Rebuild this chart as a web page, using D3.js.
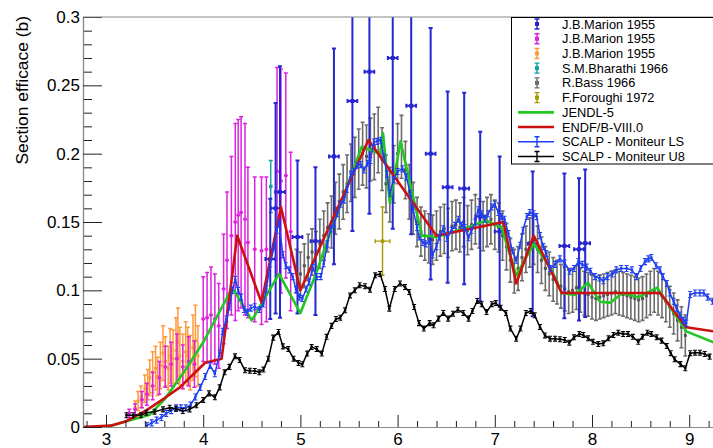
<!DOCTYPE html>
<html>
<head>
<meta charset="utf-8">
<script src="https://cdn.jsdelivr.net/npm/d3@7"></script>
<style>
  body { margin: 0; background: #fff; }
  svg { display: block; }
  text { font-family: "Liberation Sans", Arial, Helvetica, sans-serif; }
</style>
</head>
<body>
<svg id="chart" width="713" height="448"></svg>
<script>
// ---------- data (neutron energy in MeV, cross section in barn) ----------

// J.B.Marion 1955 (blue set)
const marionBlueE   = [4.69, 4.745, 4.79, 4.97, 5.155, 5.345, 5.535, 5.71, 5.95, 6.14, 6.34, 6.515, 6.685, 6.85, 7.05, 7.39, 7.716, 7.866, 7.93];
const marionBlueXS  = [0.123, 0.160, 0.172, 0.139, 0.136, 0.198, 0.2385, 0.260, 0.270, 0.235, 0.200, 0.1755, 0.1745, 0.154, 0.143, 0.134, 0.1325, 0.130, 0.1345];
const marionBlueErr = [0.044, 0.077, 0.092, 0.056, 0.054, 0.079, 0.095, 0.104, 0.125, 0.094, 0.092, 0.070, 0.070, 0.062, 0.055, 0.053, 0.053, 0.052, 0.054];
const marionBlueDE  = 0.05;

// J.B.Marion 1955 (magenta set)
const marionMagE   = [3.24, 3.30, 3.37, 3.42, 3.48, 3.55, 3.61, 3.67, 3.73, 3.79, 3.85, 3.91,
                      4.00, 4.04, 4.08, 4.12, 4.16, 4.21, 4.245, 4.29, 4.33, 4.36, 4.39, 4.43, 4.46, 4.53, 4.60, 4.65, 4.76, 4.80, 4.85, 4.90];
const marionMagXS  = [0.010, 0.013, 0.020, 0.024, 0.030, 0.036, 0.044, 0.046, 0.050, 0.044, 0.048, 0.046,
                      0.079, 0.080, 0.082, 0.079, 0.074, 0.101, 0.122, 0.140, 0.150, 0.155, 0.157, 0.152, 0.135, 0.130, 0.129, 0.130, 0.187, 0.180, 0.184, 0.143];
const marionMagErr = [0.003, 0.004, 0.006, 0.008, 0.010, 0.012, 0.015, 0.016, 0.018, 0.016, 0.018, 0.017,
                      0.031, 0.033, 0.035, 0.033, 0.031, 0.040, 0.050, 0.058, 0.072, 0.070, 0.070, 0.070, 0.055, 0.053, 0.054, 0.053, 0.076, 0.082, 0.075, 0.058];
const marionMagDE  = 0.02;

// J.B.Marion 1955 (orange set)
const marionOrE   = [3.30, 3.33, 3.36, 3.40, 3.43, 3.45, 3.48, 3.51, 3.53, 3.56, 3.586, 3.61, 3.64, 3.66, 3.69, 3.72, 3.74, 3.76, 3.79, 3.82, 3.84, 3.867, 3.895, 3.92, 3.946];
const marionOrXS  = [0.014, 0.019, 0.022, 0.028, 0.031, 0.036, 0.040, 0.043, 0.037, 0.045, 0.054, 0.048, 0.043, 0.052, 0.050, 0.056, 0.062, 0.052, 0.048, 0.055, 0.052, 0.047, 0.058, 0.063, 0.052];
const marionOrErr = [0.005, 0.007, 0.008, 0.010, 0.011, 0.013, 0.015, 0.016, 0.014, 0.017, 0.020, 0.018, 0.016, 0.020, 0.021, 0.024, 0.025, 0.021, 0.020, 0.022, 0.021, 0.020, 0.024, 0.026, 0.022];
const marionOrDE  = 0.01;

// S.M.Bharathi 1966
const bharathiE   = [4.695];
const bharathiXS  = [0.176];
const bharathiErr = [0.019];

// R.Bass 1966
const bassE = [4.96, 5.00, 5.04, 5.08, 5.12, 5.16, 5.20, 5.24, 5.28, 5.32,
               5.36, 5.40, 5.44, 5.48, 5.52, 5.56, 5.60, 5.64, 5.68, 5.72,
               5.76, 5.80, 5.84, 5.88, 5.92, 5.96, 6.00, 6.04, 6.08, 6.12,
               6.16, 6.20, 6.24, 6.28, 6.32, 6.36, 6.40, 6.44, 6.48, 6.52,
               6.56, 6.60, 6.64, 6.68, 6.72, 6.76, 6.80, 6.84, 6.88, 6.92,
               6.96, 7.00, 7.04, 7.08, 7.12, 7.16, 7.20, 7.24, 7.28, 7.32,
               7.36, 7.40, 7.44, 7.48, 7.52, 7.56, 7.60, 7.64, 7.68, 7.72,
               7.76, 7.80, 7.84, 7.88, 7.92, 7.96, 8.00, 8.04, 8.08, 8.12,
               8.16, 8.20, 8.24, 8.28, 8.32, 8.36, 8.40, 8.44, 8.48, 8.52,
               8.56, 8.60, 8.64, 8.68, 8.72, 8.76, 8.80, 8.84, 8.88, 8.92, 8.96];
const bassXS = [0.114, 0.112, 0.118, 0.124, 0.128, 0.126, 0.134, 0.140, 0.146, 0.150,
                0.160, 0.165, 0.172, 0.178, 0.186, 0.190, 0.196, 0.200, 0.198, 0.203,
                0.205, 0.210, 0.196, 0.178, 0.170, 0.185, 0.200, 0.205, 0.188, 0.172,
                0.160, 0.150, 0.143, 0.140, 0.138, 0.137, 0.140, 0.143, 0.145, 0.142,
                0.147, 0.148, 0.146, 0.150, 0.144, 0.148, 0.152, 0.149, 0.147, 0.150,
                0.152, 0.148, 0.146, 0.140, 0.132, 0.122, 0.114, 0.116, 0.124, 0.130,
                0.135, 0.137, 0.130, 0.122, 0.116, 0.112, 0.108, 0.106, 0.103, 0.101,
                0.099, 0.100, 0.102, 0.100, 0.098, 0.097, 0.095, 0.094, 0.095, 0.096,
                0.097, 0.098, 0.099, 0.098, 0.097, 0.096, 0.095, 0.094, 0.093, 0.094,
                0.096, 0.098, 0.100, 0.098, 0.096, 0.092, 0.088, 0.083, 0.078, 0.073, 0.067];
const bassErr = [0.016, 0.016, 0.016, 0.017, 0.017, 0.017, 0.018, 0.018, 0.018, 0.019,
                 0.019, 0.020, 0.020, 0.021, 0.021, 0.022, 0.022, 0.023, 0.023, 0.023,
                 0.024, 0.024, 0.023, 0.021, 0.020, 0.021, 0.022, 0.023, 0.021, 0.020,
                 0.019, 0.018, 0.018, 0.018, 0.018, 0.018, 0.018, 0.018, 0.018, 0.018,
                 0.018, 0.018, 0.018, 0.018, 0.018, 0.018, 0.018, 0.018, 0.018, 0.018,
                 0.018, 0.018, 0.018, 0.018, 0.017, 0.016, 0.016, 0.016, 0.017, 0.017,
                 0.018, 0.018, 0.017, 0.017, 0.016, 0.016, 0.016, 0.016, 0.016, 0.016,
                 0.016, 0.016, 0.016, 0.016, 0.016, 0.016, 0.016, 0.016, 0.016, 0.016,
                 0.016, 0.016, 0.016, 0.016, 0.016, 0.016, 0.016, 0.016, 0.016, 0.016,
                 0.016, 0.016, 0.016, 0.016, 0.016, 0.015, 0.015, 0.015, 0.015, 0.015, 0.015];

// F.Foroughi 1972
const foroughiE   = [5.845];
const foroughiXS  = [0.136];
const foroughiErr = [0.025];
const foroughiDE  = 0.075;

// JENDL-5 evaluation
const jendlE  = [2.76, 3.0, 3.2, 3.45, 3.6, 3.8, 4.0, 4.3, 4.50, 4.78, 5.00, 5.16, 5.30, 5.63, 5.82, 5.85, 5.92, 6.03, 6.20, 6.25, 6.40, 6.74, 6.91, 7.07, 7.22, 7.40, 7.57, 7.69, 7.82, 7.96, 8.08, 8.19, 8.31, 8.48, 8.67, 8.97, 9.25];
const jendlXS = [0.0, 0.0, 0.004, 0.009, 0.020, 0.040, 0.062, 0.102, 0.078, 0.112, 0.0834, 0.112, 0.141, 0.205, 0.200, 0.215, 0.164, 0.209, 0.156, 0.140, 0.139, 0.1466, 0.151, 0.146, 0.111, 0.134, 0.117, 0.098, 0.0966, 0.1056, 0.0917, 0.091, 0.098, 0.095, 0.102, 0.070, 0.062];

// ENDF/B-VIII.0 evaluation
const endfE  = [2.76, 3.05, 3.2, 3.41, 3.6, 3.76, 4.02, 4.19, 4.35, 4.60, 4.80, 5.00, 5.70, 6.40, 7.09, 7.22, 7.40, 7.69, 8.70, 8.97, 9.25];
const endfXS = [0.0, 0.001, 0.004, 0.012, 0.021, 0.029, 0.047, 0.050, 0.140, 0.091, 0.161, 0.100, 0.210, 0.140, 0.150, 0.105, 0.140, 0.098, 0.098, 0.073, 0.070];

// SCALP - Moniteur LS
const scalpLSE = [3.42, 3.47, 3.52, 3.57, 3.62, 3.67, 3.72, 3.77, 3.82, 3.87, 3.92, 3.97, 4.02, 4.07, 4.12, 4.17, 4.20, 4.24, 4.27, 4.30,
                  4.33, 4.36, 4.39, 4.42, 4.45, 4.49, 4.53, 4.58, 4.62, 4.65, 4.69, 4.73, 4.756, 4.78, 4.82, 4.85, 4.886, 4.92, 4.955, 4.99,
                  5.02, 5.06, 5.09, 5.126, 5.167, 5.21, 5.24, 5.277, 5.31, 5.346, 5.38, 5.415, 5.45, 5.48, 5.52, 5.55, 5.585, 5.62, 5.655, 5.69,
                  5.72, 5.756, 5.79, 5.826, 5.86, 5.89, 5.92, 5.96, 6.00, 6.05, 6.09, 6.13, 6.16, 6.20, 6.22, 6.26, 6.29, 6.33, 6.36, 6.40,
                  6.43, 6.47, 6.51, 6.555, 6.59, 6.625, 6.66, 6.69, 6.73, 6.76, 6.80, 6.83, 6.865, 6.90, 6.93, 6.97, 7.00, 7.036, 7.07, 7.10,
                  7.14, 7.18, 7.22, 7.26, 7.29, 7.33, 7.36, 7.40, 7.43, 7.465, 7.50, 7.53, 7.568, 7.62, 7.67, 7.72, 7.77, 7.815, 7.86, 7.90,
                  7.945, 7.985, 8.03, 8.075, 8.116, 8.16, 8.21, 8.25, 8.30, 8.356, 8.41, 8.46, 8.50, 8.545, 8.58, 8.61, 8.66, 8.70, 8.73, 8.77,
                  8.80, 8.84, 8.87, 8.905, 8.94, 8.97, 9.01, 9.06, 9.11, 9.15, 9.19, 9.24];
const scalpLSXS = [0.001, 0.003, 0.005, 0.007, 0.010, 0.012, 0.014, 0.014, 0.014, 0.016, 0.022, 0.029, 0.037, 0.045, 0.039, 0.054, 0.070, 0.079, 0.088, 0.100,
                   0.108, 0.100, 0.095, 0.086, 0.084, 0.087, 0.088, 0.086, 0.090, 0.101, 0.1195, 0.132, 0.144, 0.149, 0.126, 0.118, 0.115, 0.110, 0.1005, 0.095,
                   0.094, 0.101, 0.106, 0.1166, 0.110, 0.110, 0.1195, 0.134, 0.145, 0.149, 0.156, 0.163, 0.166, 0.174, 0.185, 0.187, 0.1915, 0.192, 0.188, 0.193,
                   0.195, 0.2085, 0.209, 0.2098, 0.1976, 0.185, 0.171, 0.181, 0.187, 0.189, 0.183, 0.171, 0.159, 0.146, 0.139, 0.135, 0.134, 0.136, 0.126, 0.132,
                   0.139, 0.145, 0.138, 0.144, 0.1475, 0.152, 0.1475, 0.146, 0.1385, 0.144, 0.150, 0.159, 0.156, 0.152, 0.156, 0.161, 0.163, 0.157, 0.154, 0.152,
                   0.1415, 0.129, 0.122, 0.133, 0.144, 0.154, 0.157, 0.156, 0.154, 0.140, 0.132, 0.127, 0.116, 0.119, 0.123, 0.120, 0.114, 0.116, 0.121, 0.119,
                   0.117, 0.114, 0.110, 0.109, 0.107, 0.110, 0.112, 0.115, 0.116, 0.116, 0.115, 0.110, 0.116, 0.121, 0.123, 0.124, 0.118, 0.115, 0.110, 0.105,
                   0.098, 0.092, 0.087, 0.082, 0.078, 0.076, 0.097, 0.098, 0.098, 0.098, 0.095, 0.092];
const scalpLSErr = 0.0022;

// SCALP - Moniteur U8
const scalpU8E = [3.21, 3.28, 3.36, 3.415, 3.50, 3.586, 3.655, 3.72, 3.79, 3.86, 3.93, 4.00, 4.06, 4.12, 4.17, 4.22, 4.27, 4.327, 4.375, 4.43,
                  4.48, 4.53, 4.577, 4.62, 4.67, 4.72, 4.775, 4.82, 4.875, 4.93, 4.98, 5.02, 5.07, 5.115, 5.167, 5.22, 5.27, 5.32, 5.366, 5.41,
                  5.46, 5.51, 5.56, 5.61, 5.665, 5.716, 5.77, 5.82, 5.87, 5.915, 5.97, 6.025, 6.076, 6.12, 6.17, 6.22, 6.27, 6.33, 6.37, 6.42,
                  6.47, 6.52, 6.57, 6.62, 6.676, 6.73, 6.77, 6.82, 6.865, 6.915, 6.97, 7.01, 7.06, 7.115, 7.16, 7.22, 7.265, 7.32, 7.37, 7.41,
                  7.465, 7.516, 7.568, 7.62, 7.67, 7.72, 7.766, 7.815, 7.87, 7.91, 7.96, 8.01, 8.065, 8.116, 8.17, 8.22, 8.27, 8.32, 8.37, 8.42,
                  8.476, 8.52, 8.57, 8.61, 8.665, 8.716, 8.77, 8.81, 8.85, 8.91, 8.96, 9.01, 9.06, 9.11, 9.16, 9.21];
const scalpU8XS = [0.0086, 0.0086, 0.0086, 0.0105, 0.0112, 0.0129, 0.0141, 0.0134, 0.0117, 0.0129, 0.0159, 0.0198, 0.0246, 0.0217, 0.029, 0.040, 0.044, 0.0517, 0.049, 0.0415,
                   0.0412, 0.041, 0.040, 0.042, 0.050, 0.0654, 0.0695, 0.059, 0.057, 0.050, 0.0468, 0.0459, 0.0537, 0.0585, 0.057, 0.0537, 0.066, 0.074, 0.079, 0.080,
                   0.0854, 0.0963, 0.100, 0.1037, 0.103, 0.1005, 0.111, 0.112, 0.101, 0.0866, 0.101, 0.105, 0.1024, 0.0988, 0.0878, 0.076, 0.072, 0.076, 0.0744, 0.0793,
                   0.0834, 0.0793, 0.0829, 0.0858, 0.0834, 0.0793, 0.0849, 0.0922, 0.0898, 0.0841, 0.0898, 0.0907, 0.0873, 0.0834, 0.072, 0.0646, 0.072, 0.0834, 0.0849, 0.0817,
                   0.0732, 0.067, 0.0646, 0.0646, 0.0642, 0.0637, 0.0617, 0.0656, 0.068, 0.0673, 0.0649, 0.0624, 0.0607, 0.0612, 0.0649, 0.0673, 0.069, 0.068, 0.068, 0.066,
                   0.0624, 0.066, 0.069, 0.068, 0.0656, 0.0632, 0.0593, 0.054, 0.0495, 0.046, 0.043, 0.054, 0.0544, 0.0544, 0.0534, 0.0515];
const scalpU8Err = 0.0018;

// axis ticks and labels
const xTickVals   = [3, 4, 5, 6, 7, 8, 9];
const xTickLabels = ["3", "4", "5", "6", "7", "8", "9"];
const yTickVals   = [0, 0.05, 0.1, 0.15, 0.2, 0.25, 0.3];
const yTickLabels = ["0", "0.05", "0.1", "0.15", "0.2", "0.25", "0.3"];
const yTitle = "Section efficace (b)";
const xTitle = "Energie du neutron incident (MeV)";

// legend entries
const legendLabels = ["J.B.Marion 1955", "J.B.Marion 1955", "J.B.Marion 1955", "S.M.Bharathi 1966", "R.Bass 1966",
                      "F.Foroughi 1972", "JENDL-5", "ENDF/B-VIII.0", "SCALP - Moniteur LS", "SCALP - Moniteur U8"];

// ---------- layout ----------
const COL = {
  marionBlue: "#2626d2", marionMag: "#dd22dd", marionOr: "#ff9a3c", bharathi: "#13a0a0",
  bass: "#6c6c6c", foroughi: "#a59c00", jendl: "#22c822", endf: "#cc1010", ls: "#1f3ff2", u8: "#000000"
};
const X0 = 83, X1 = 713, Y0 = 427, Y1 = 17;

const svg = d3.select("#chart");
const x = d3.scaleLinear().domain([2.7634, 9.2449]).range([X0, X1]);
const y = d3.scaleLinear().domain([0, 0.3]).range([Y0, Y1]);

svg.append("rect").attr("width", 713).attr("height", 448).attr("fill", "#fff");

svg.append("defs").append("clipPath").attr("id", "frame")
  .append("rect").attr("x", X0).attr("y", Y1).attr("width", X1 - X0).attr("height", Y0 - Y1);

const plot = svg.append("g").attr("clip-path", "url(#frame)");

// points with vertical (and optional horizontal) error bars
function errorSeries(xs, ys, errs, opt) {
  const g = plot.append("g");
  const errAt = i => Array.isArray(errs) ? errs[i] : errs;
  let p = "";
  xs.forEach((e, i) => {
    const cx = x(e), top = y(ys[i] + errAt(i)), bot = y(ys[i] - errAt(i)), cy = y(ys[i]);
    p += `M${cx},${top}V${bot}`;
    if (opt.cap) p += `M${cx - opt.cap},${top}H${cx + opt.cap}M${cx - opt.cap},${bot}H${cx + opt.cap}`;
    if (opt.dx) {
      const l = x(e - opt.dx), r = x(e + opt.dx);
      p += `M${l},${cy}H${r}`;
      if (opt.hcap) p += `M${l},${cy - opt.hcap}V${cy + opt.hcap}M${r},${cy - opt.hcap}V${cy + opt.hcap}`;
    }
  });
  g.append("path").attr("d", p).attr("fill", "none")
    .attr("stroke", opt.color).attr("stroke-width", opt.width);
  if (opt.line) {
    g.append("path")
      .attr("d", d3.line().x(d => x(d[0])).y(d => y(d[1]))(xs.map((e, i) => [e, ys[i]])))
      .attr("fill", "none").attr("stroke", opt.color).attr("stroke-width", opt.lineWidth)
      .attr("stroke-linejoin", "round");
  }
  const s = opt.marker;
  if (s) {
    g.selectAll(null).data(xs).join("rect")
      .attr("x", (e) => x(e) - s / 2).attr("y", (e, i) => y(ys[i]) - s / 2)
      .attr("width", s).attr("height", s).attr("fill", opt.markerColor || opt.color);
  }
}

function curve(xs, ys, color, width) {
  plot.append("path")
    .attr("d", d3.line().x(d => x(d[0])).y(d => y(d[1]))(xs.map((e, i) => [e, ys[i]])))
    .attr("fill", "none").attr("stroke", color).attr("stroke-width", width)
    .attr("stroke-linejoin", "round");
}

// ---------- data layers ----------
errorSeries(bassE, bassXS, bassErr, { color: COL.bass, width: 1.6, cap: 2, marker: 3, markerColor: "#555" });
errorSeries(marionOrE, marionOrXS, marionOrErr, { color: COL.marionOr, width: 1.5, cap: 2, dx: marionOrDE, marker: 3 });
errorSeries(marionMagE, marionMagXS, marionMagErr, { color: COL.marionMag, width: 1.5, cap: 2, dx: marionMagDE, marker: 3 });
errorSeries(bharathiE, bharathiXS, bharathiErr, { color: COL.bharathi, width: 1.4, cap: 2, marker: 3.5 });
errorSeries(foroughiE, foroughiXS, foroughiErr, { color: COL.foroughi, width: 1.4, cap: 2, dx: foroughiDE, hcap: 2, marker: 3.5 });
errorSeries(marionBlueE, marionBlueXS, marionBlueErr, { color: COL.marionBlue, width: 2, cap: 2, dx: marionBlueDE, hcap: 2, marker: 4 });
curve(jendlE, jendlXS, COL.jendl, 2.6);
curve(endfE, endfXS, COL.endf, 2.6);
errorSeries(scalpLSE, scalpLSXS, scalpLSErr, { color: COL.ls, width: 1.1, cap: 2, line: true, lineWidth: 1.5, marker: 2.4 });
errorSeries(scalpU8E, scalpU8XS, scalpU8Err, { color: COL.u8, width: 1.1, cap: 2, line: true, lineWidth: 1.5, marker: 2.4 });

// ---------- axes ----------
const fontSize = 17;
const axisG = svg.append("g");

// x axis: major and minor ticks pointing into the frame
const xMinor = d3.range(2.8, 9.25, 0.2).filter(v => Math.abs(v - Math.round(v)) > 1e-6);
axisG.append("g").attr("transform", `translate(0,${Y0})`)
  .call(d3.axisBottom(x).tickValues(xMinor).tickSize(-6).tickSizeOuter(0).tickFormat(""));
axisG.append("g").attr("transform", `translate(0,${Y0})`)
  .call(d3.axisBottom(x).tickValues(xTickVals).tickSize(-12).tickSizeOuter(0).tickPadding(6)
        .tickFormat((d, i) => xTickLabels[i]));

// y axis
const yMinor = d3.range(0, 0.3001, 0.01).filter(v => Math.abs(v * 20 - Math.round(v * 20)) > 1e-6);
axisG.append("g").attr("transform", `translate(${X0},0)`)
  .call(d3.axisLeft(y).tickValues(yMinor).tickSize(-9).tickSizeOuter(0).tickFormat(""));
axisG.append("g").attr("transform", `translate(${X0},0)`)
  .call(d3.axisLeft(y).tickValues(yTickVals).tickSize(-19).tickSizeOuter(0).tickPadding(3)
        .tickFormat((d, i) => yTickLabels[i]));

axisG.selectAll(".domain").attr("stroke", "#8a8a8a").attr("stroke-width", 1.2);
axisG.selectAll(".tick line").attr("stroke", "#222").attr("stroke-width", 1);
axisG.selectAll(".tick text").attr("font-size", fontSize).attr("fill", "#000")
  .attr("font-family", "Liberation Sans, Arial, sans-serif");

// top frame edge
svg.append("line").attr("x1", X0).attr("x2", X1).attr("y1", Y1).attr("y2", Y1)
  .attr("stroke", "#8a8a8a").attr("stroke-width", 1.2);

// axis titles (the x title sits mostly below the visible canvas)
svg.append("text")
  .attr("transform", `translate(28,${Y1 - 1}) rotate(-90)`)
  .attr("text-anchor", "end").attr("font-size", 17.4).text(yTitle);
svg.append("text")
  .attr("x", X1).attr("y", 461).attr("text-anchor", "end")
  .attr("font-size", 18).attr("fill", "#555").text(xTitle);

// ---------- legend ----------
const lg = svg.append("g");
const LX = 511.5, LY = 17.5, LW = 215, LH = 146.5;
lg.append("rect").attr("x", LX).attr("y", LY).attr("width", LW).attr("height", LH)
  .attr("fill", "#fff").attr("stroke", "#000").attr("stroke-width", 1);

const legendStyle = [
  { type: "pt", color: COL.marionBlue }, { type: "pt", color: COL.marionMag }, { type: "pt", color: COL.marionOr },
  { type: "pt", color: COL.bharathi }, { type: "pt", color: COL.bass }, { type: "pt", color: COL.foroughi },
  { type: "line", color: COL.jendl }, { type: "line", color: COL.endf },
  { type: "both", color: COL.ls }, { type: "both", color: COL.u8 }
];
const rowY = d3.scaleLinear().domain([0, 9]).range([24, 156.5]);
const MX = 537;
legendLabels.forEach((lab, i) => {
  const cy = rowY(i), st = legendStyle[i];
  if (st.type === "line" || st.type === "both") {
    lg.append("line").attr("x1", 518).attr("x2", 554).attr("y1", cy).attr("y2", cy)
      .attr("stroke", st.color).attr("stroke-width", st.type === "line" ? 2.6 : 1.5);
  }
  if (st.type === "pt" || st.type === "both") {
    lg.append("path").attr("d", `M${MX},${cy - 5}V${cy + 5}M${MX - 2.5},${cy - 5}H${MX + 2.5}M${MX - 2.5},${cy + 5}H${MX + 2.5}`)
      .attr("stroke", st.color).attr("stroke-width", 1.4).attr("fill", "none");
    if (st.type === "pt") {
      lg.append("rect").attr("x", MX - 2).attr("y", cy - 2).attr("width", 4).attr("height", 4).attr("fill", st.color);
    }
  }
  lg.append("text").attr("x", 562).attr("y", cy + 4.5).attr("font-size", 12.8).attr("fill", "#000").text(lab);
});
</script>
</body>
</html>
